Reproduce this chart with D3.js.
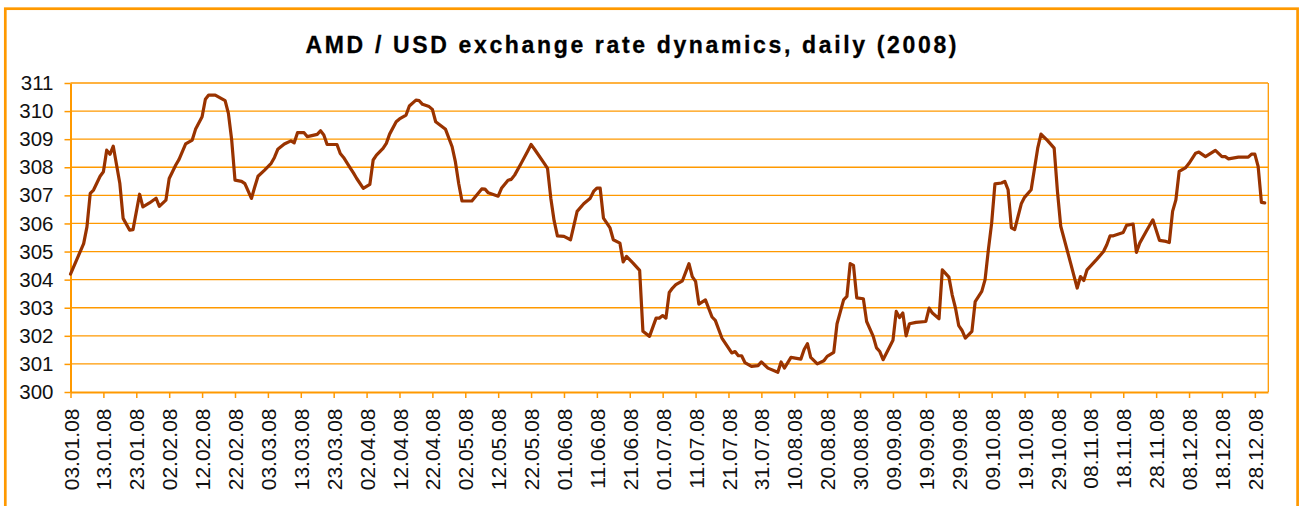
<!DOCTYPE html>
<html>
<head>
<meta charset="utf-8">
<script src="https://cdn.jsdelivr.net/npm/d3@7"></script>
<style>
	body { margin: 0; background: #fff; }
	text { font-family: "Liberation Sans", Arial, sans-serif; fill: #111; }
</style>
</head>
<body>
<div id="chart"></div>
<script>
// data
const dates = [
	"03.01.08","07.01.08","08.01.08","09.01.08","10.01.08","12.01.08","13.01.08","14.01.08","15.01.08","16.01.08",
	"18.01.08","19.01.08","21.01.08","22.01.08","24.01.08","25.01.08","27.01.08","29.01.08","30.01.08","01.02.08",
	"02.02.08","04.02.08","05.02.08","07.02.08","09.02.08","10.02.08","12.02.08","13.02.08","14.02.08","16.02.08",
	"19.02.08","20.02.08","21.02.08","22.02.08","24.02.08","25.02.08","27.02.08","28.02.08","29.02.08","02.03.08",
	"04.03.08","05.03.08","06.03.08","08.03.08","10.03.08","11.03.08","12.03.08","14.03.08","15.03.08","18.03.08",
	"19.03.08","20.03.08","21.03.08","24.03.08","25.03.08","26.03.08","28.03.08","29.03.08","30.03.08","01.04.08",
	"03.04.08","04.04.08","05.04.08","07.04.08","08.04.08","09.04.08","11.04.08","12.04.08","14.04.08","15.04.08",
	"17.04.08","18.04.08","19.04.08","21.04.08","22.04.08","23.04.08","25.04.08","26.04.08","28.04.08","29.04.08",
	"30.04.08","01.05.08","04.05.08","07.05.08","08.05.08","09.05.08","12.05.08","13.05.08","15.05.08","16.05.08",
	"17.05.08","19.05.08","21.05.08","22.05.08","23.05.08","26.05.08","27.05.08","28.05.08","29.05.08","30.05.08",
	"01.06.08","03.06.08","04.06.08","05.06.08","07.06.08","09.06.08","10.06.08","11.06.08","12.06.08","13.06.08",
	"15.06.08","16.06.08","18.06.08","19.06.08","20.06.08","22.06.08","24.06.08","25.06.08","27.06.08","29.06.08",
	"30.06.08","01.07.08","02.07.08","03.07.08","04.07.08","05.07.08","07.07.08","09.07.08","10.07.08","11.07.08",
	"12.07.08","14.07.08","16.07.08","17.07.08","19.07.08","22.07.08","23.07.08","24.07.08","25.07.08","26.07.08",
	"28.07.08","30.07.08","31.07.08","02.08.08","05.08.08","06.08.08","07.08.08","09.08.08","12.08.08","13.08.08",
	"14.08.08","15.08.08","17.08.08","19.08.08","20.08.08","22.08.08","23.08.08","25.08.08","26.08.08","27.08.08",
	"28.08.08","29.08.08","31.08.08","01.09.08","03.09.08","04.09.08","05.09.08","06.09.08","09.09.08","10.09.08",
	"11.09.08","12.09.08","13.09.08","14.09.08","16.09.08","19.09.08","20.09.08","21.09.08","23.09.08","24.09.08",
	"26.09.08","27.09.08","28.09.08","29.09.08","30.09.08","01.10.08","03.10.08","04.10.08","06.10.08","07.10.08",
	"08.10.08","09.10.08","10.10.08","12.10.08","13.10.08","14.10.08","15.10.08","16.10.08","18.10.08","19.10.08",
	"21.10.08","23.10.08","24.10.08","26.10.08","28.10.08","29.10.08","30.10.08","02.11.08","04.11.08","05.11.08",
	"06.11.08","07.11.08","10.11.08","12.11.08","13.11.08","14.11.08","15.11.08","18.11.08","19.11.08","21.11.08",
	"22.11.08","23.11.08","25.11.08","27.11.08","29.11.08","01.12.08","02.12.08","03.12.08","04.12.08","05.12.08",
	"07.12.08","08.12.08","10.12.08","11.12.08","13.12.08","16.12.08","18.12.08","19.12.08","20.12.08","23.12.08",
	"26.12.08","27.12.08","28.12.08","29.12.08","30.12.08","31.12.08"
];
const rates = [
	304.20,305.28,305.88,307.07,307.19,307.68,307.84,308.61,308.46,308.75,
	307.42,306.18,305.76,305.78,307.04,306.59,306.73,306.90,306.61,306.83,
	307.60,308.08,308.28,308.83,308.97,309.35,309.80,310.42,310.57,310.57,
	310.37,309.92,308.97,307.54,307.50,307.42,306.89,307.30,307.68,307.90,
	308.14,308.35,308.64,308.83,308.94,308.87,309.23,309.23,309.09,309.17,
	309.30,309.15,308.81,308.81,308.49,308.35,307.98,307.80,307.60,307.25,
	307.39,308.26,308.43,308.67,308.85,309.18,309.62,309.72,309.86,310.18,
	310.39,310.37,310.24,310.16,310.06,309.62,309.44,309.35,308.73,308.19,
	307.42,306.80,306.80,307.23,307.22,307.09,306.97,307.25,307.54,307.57,
	307.72,308.14,308.58,308.81,308.65,308.14,307.96,306.90,306.10,305.56,
	305.54,305.42,305.92,306.43,306.70,306.90,307.14,307.26,307.26,306.19,
	305.84,305.42,305.30,304.63,304.83,304.59,304.33,302.16,301.98,302.63,
	302.63,302.72,302.63,303.54,303.70,303.82,303.96,304.57,304.11,303.94,
	303.13,303.28,302.67,302.55,301.92,301.39,301.44,301.29,301.29,301.05,
	300.91,300.94,301.07,300.85,300.70,301.07,300.85,301.23,301.17,301.51,
	301.72,301.23,301.00,301.11,301.27,301.41,302.43,303.28,303.40,304.57,
	304.51,303.35,303.32,302.51,301.98,301.57,301.44,301.15,301.84,302.87,
	302.65,302.81,302.00,302.43,302.48,302.51,302.99,302.81,302.61,304.35,
	304.09,303.46,302.99,302.36,302.19,301.92,302.16,303.22,303.58,304.00,
	305.06,306.01,307.41,307.44,307.50,307.20,305.84,305.78,306.70,306.93,
	307.20,308.68,309.18,308.95,308.68,307.14,305.90,304.59,303.70,304.11,
	303.97,304.35,304.73,305.00,305.24,305.56,305.56,305.68,305.93,305.98,
	304.97,305.30,305.72,306.13,305.40,305.36,305.32,306.43,306.84,307.85,
	307.99,308.14,308.50,308.54,308.38,308.60,308.38,308.38,308.30,308.36,
	308.36,308.47,308.47,308.03,306.75,306.73
];
const tickLabels = [
	"03.01.08","13.01.08","23.01.08","02.02.08","12.02.08","22.02.08","03.03.08","13.03.08","23.03.08","02.04.08",
	"12.04.08","22.04.08","02.05.08","12.05.08","22.05.08","01.06.08","11.06.08","21.06.08","01.07.08","11.07.08",
	"21.07.08","31.07.08","10.08.08","20.08.08","30.08.08","09.09.08","19.09.08","29.09.08","09.10.08","19.10.08",
	"29.10.08","08.11.08","18.11.08","28.11.08","08.12.08","18.12.08","28.12.08"
];
const yTicks = [300, 301, 302, 303, 304, 305, 306, 307, 308, 309, 310, 311];
const title = "AMD / USD exchange rate dynamics, daily (2008)";

const width  = 1301
	, height = 506
	, plot   = { left: 70.5, right: 1268, top: 83, bottom: 392 }
	, orange = "#ff9900"
	, brown  = "#993300";

const parse = d3.timeParse("%d.%m.%y");
const series = dates.map((d, i) => ({ date: parse(d), value: rates[i] }));

const svg = d3.select("#chart")
	.append("svg")
		.attr("width", width)
		.attr("height", height);

svg.append("rect")
	.attr("width", width)
	.attr("height", height)
	.attr("fill", "#fff");

// outer frame
svg.append("rect")
	.attr("x", 5.3)
	.attr("y", 8.7)
	.attr("width", 1292.3)
	.attr("height", 600)
	.attr("fill", "none")
	.attr("stroke", orange)
	.attr("stroke-width", 2.7);

// title
svg.append("text")
	.attr("x", 631)
	.attr("y", 52.7)
	.attr("text-anchor", "middle")
	.attr("textLength", 651)
	.attr("lengthAdjust", "spacing")
	.style("font-size", "23px")
	.style("font-weight", "bold")
	.style("fill", "#000")
	.style("stroke", "#000")
	.style("stroke-width", 0.3)
	.text(title);

// scales
const x = d3.scaleTime()
	.domain([parse("03.01.08"), parse("01.01.09")])
	.range([plot.left, plot.right]);
const y = d3.scaleLinear()
	.domain([300, 311])
	.range([plot.bottom, plot.top]);

// gridlines
svg.append("g")
	.selectAll("line")
	.data(yTicks.slice(1))
	.join("line")
		.attr("x1", plot.left)
		.attr("x2", plot.right)
		.attr("y1", d => y(d))
		.attr("y2", d => y(d))
		.attr("stroke", orange)
		.attr("stroke-width", 1.3);

// right edge of plot area
svg.append("line")
	.attr("x1", plot.right + 0.3)
	.attr("x2", plot.right + 0.3)
	.attr("y1", plot.top)
	.attr("y2", plot.bottom)
	.attr("stroke", orange)
	.attr("stroke-width", 1.3);

// y axis
const yAxis = svg.append("g")
	.attr("transform", "translate(" + plot.left + ",0)")
	.call(d3.axisLeft(y)
		.tickValues(yTicks)
		.tickSize(6)
		.tickSizeOuter(0)
		.tickPadding(11)
		.tickFormat(d3.format("d")));
yAxis.select(".domain").attr("stroke", orange).attr("stroke-width", 2);
yAxis.selectAll(".tick line").attr("stroke", orange).attr("stroke-width", 1.5);
yAxis.selectAll(".tick text")
	.style("font-size", "20.5px")
	.attr("fill", "#111");

// x axis
const xAxis = svg.append("g")
	.attr("transform", "translate(0," + plot.bottom + ")")
	.call(d3.axisBottom(x)
		.tickValues(tickLabels.map(parse))
		.tickSize(6)
		.tickSizeOuter(0)
		.tickFormat(d3.timeFormat("%d.%m.%y")));
xAxis.select(".domain").attr("stroke", orange).attr("stroke-width", 2);
xAxis.selectAll(".tick line").attr("stroke", orange).attr("stroke-width", 1.5);
xAxis.selectAll(".tick text")
	.attr("transform", "rotate(-90)")
	.attr("text-anchor", "end")
	.attr("x", -16.5)
	.attr("y", 0)
	.attr("dy", "0.36em")
	.style("font-size", "21px")
	.attr("fill", "#111");

// the rate line
const line = d3.line()
	.x(d => x(d.date))
	.y(d => y(d.value));

svg.append("path")
	.datum(series)
	.attr("d", line)
	.attr("fill", "none")
	.attr("stroke", brown)
	.attr("stroke-width", 3.2)
	.attr("stroke-linejoin", "round")
	.attr("stroke-linecap", "round");
</script>
</body>
</html>
